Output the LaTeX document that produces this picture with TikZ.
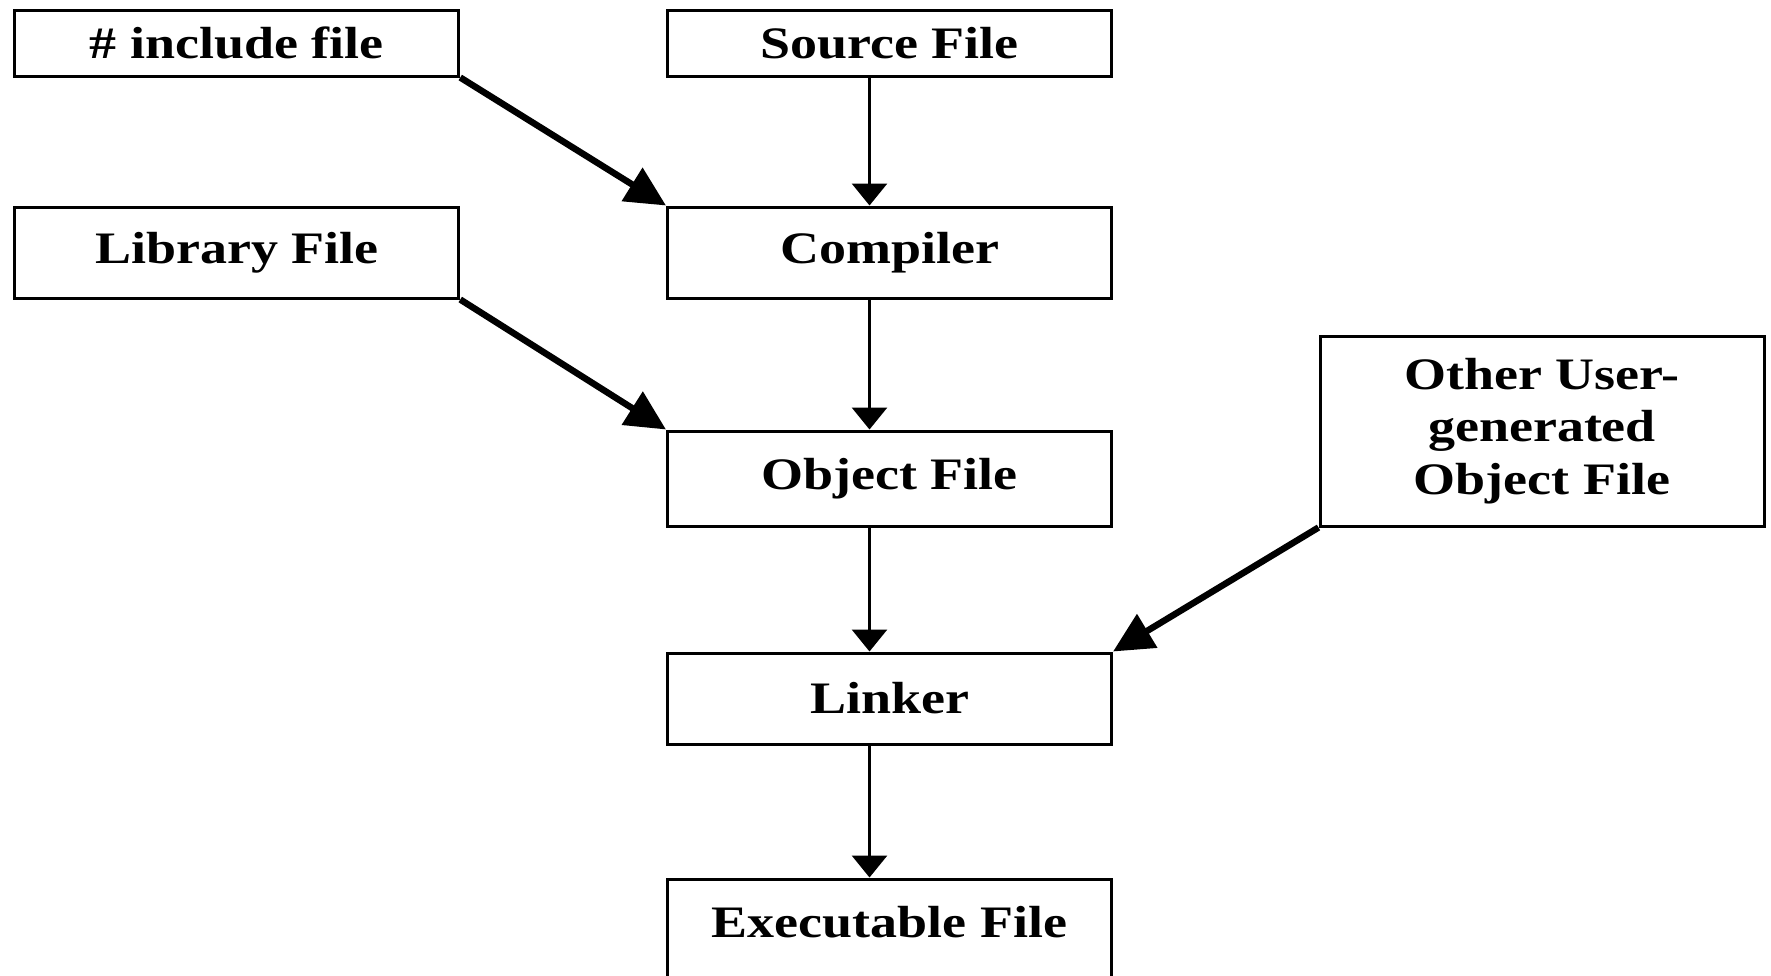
\documentclass[tikz,border=0pt]{standalone}
\usepackage{fontspec}
\setmainfont{Liberation Serif}[FakeStretch=1.2]
\usetikzlibrary{arrows.meta}

\tikzset{
  filebox/.style={draw, line width=3pt, minimum width=444pt, inner sep=0pt,
    align=center, font=\fontsize{45}{52.5}\selectfont\bfseries},
  thinarrow/.style={line width=3pt, -{Triangle[length=22pt,width=35pt]}},
  thickarrow/.style={line width=6.5pt, -{Triangle[length=40pt,width=38pt]}}
}

\begin{document}
\begin{tikzpicture}[x=1pt,y=-1pt]
            \clip (0,0) rectangle (1771,975);
            \fill[white] (0,0) rectangle (1771,975);

            \node[filebox, minimum height=66pt] (inc) at (236.75,43) {\# include file};
            \node[filebox, minimum height=66pt] (src) at (889.5,43) {Source File};
            \node[filebox, minimum height=91pt] (lib) at (236.75,252.5) {Library File};
            \node[filebox, minimum height=91pt] (cmp) at (889.5,252.5) {Compiler};
            \node[filebox, minimum height=95pt] (obj) at (889.5,478.5) {Object File};
            \node[filebox, minimum height=190pt] (oth) at (1542,431) {Other User-\\generated\\Object File};
            \node[filebox, minimum height=91pt] (lnk) at (889.5,698.5) {Linker};
            \node[filebox, minimum height=100pt, text depth=14pt] (exe) at (889.5,929) {Executable File};

            \draw[thinarrow] ([xshift=-20pt]src.south) -- ([xshift=-20pt]cmp.north);
            \draw[thinarrow] ([xshift=-20pt]cmp.south) -- ([xshift=-20pt]obj.north);
            \draw[thinarrow] ([xshift=-20pt]obj.south) -- ([xshift=-20pt]lnk.north);
            \draw[thinarrow] ([xshift=-20pt]lnk.south) -- ([xshift=-20pt]exe.north);

            \draw[thickarrow] (inc.south east) -- (cmp.north west);
            \draw[thickarrow] (lib.south east) -- (obj.north west);
            \draw[thickarrow] (oth.south west) -- (lnk.north east);
        \end{tikzpicture}
\end{document}
